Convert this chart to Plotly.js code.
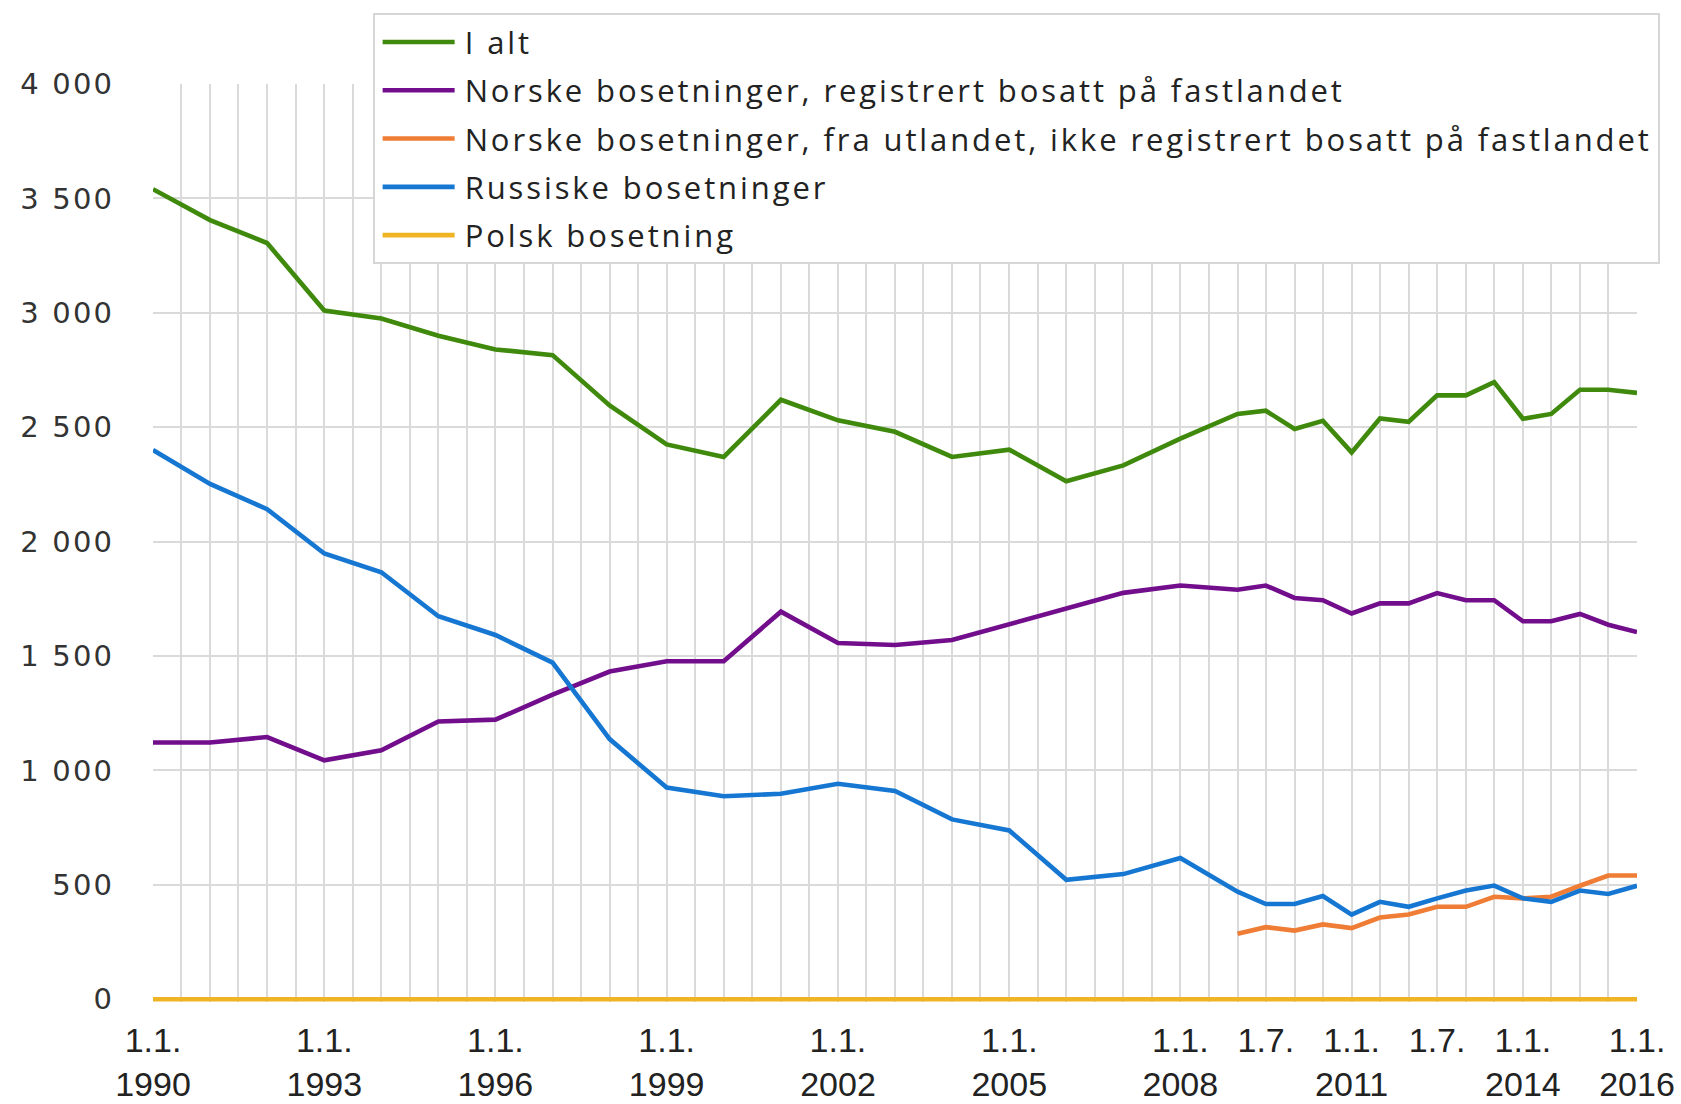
<!DOCTYPE html>
<html><head><meta charset="utf-8">
<script src="https://cdn.plot.ly/plotly-3.0.1.min.js"></script>
<style>html,body{margin:0;padding:0;background:#fff;} #chart{width:1681px;height:1104px;}
text.legendtext{letter-spacing:2.9px;}
g.ytick text{letter-spacing:2.2px;}
</style>
</head><body><div id="chart"></div>
<script>
// Dates of the observations (yearly until 2008, then half-yearly)
const dates = ["1990-01-01","1991-01-01","1992-01-01","1993-01-01","1994-01-01","1995-01-01","1996-01-01","1997-01-01","1998-01-01","1999-01-01","2000-01-01","2001-01-01","2002-01-01","2003-01-01","2004-01-01","2005-01-01","2006-01-01","2007-01-01","2008-01-01","2009-01-01","2009-07-01","2010-01-01","2010-07-01","2011-01-01","2011-07-01","2012-01-01","2012-07-01","2013-01-01","2013-07-01","2014-01-01","2014-07-01","2015-01-01","2015-07-01","2016-01-01"];
const utlandDates = ["2009-01-01","2009-07-01","2010-01-01","2010-07-01","2011-01-01","2011-07-01","2012-01-01","2012-07-01","2013-01-01","2013-07-01","2014-01-01","2014-07-01","2015-01-01","2015-07-01","2016-01-01"];

const iAlt = [3540,3405,3305,3010,2975,2900,2840,2815,2595,2425,2370,2620,2530,2480,2370,2402,2264,2333,2450,2558,2572,2492,2528,2390,2538,2524,2639,2639,2697,2537,2558,2664,2664,2650];
const norskeFastland = [1122,1122,1146,1044,1088,1214,1222,1331,1432,1477,1477,1694,1557,1548,1570,1638,1708,1776,1808,1790,1808,1754,1744,1686,1730,1730,1775,1744,1744,1652,1652,1684,1637,1605];
const norskeUtland = [286,315,300,327,311,357,370,404,404,448,441,448,496,541,541];
const russiske = [2400,2252,2142,1948,1866,1674,1592,1471,1137,925,887,898,942,910,786,738,522,547,617,470,416,416,451,370,426,404,441,475,497,441,426,475,460,496];
const polsk = [0,0,0,0,0,0,0,0,0,0,0,0,0,0,0,0,0,0,0,0,0,0,0,0,0,0,0,0,0,0,0,0,0,0];

const seriesNames = ["I alt","Norske bosetninger, registrert bosatt på fastlandet","Norske bosetninger, fra utlandet, ikke registrert bosatt på fastlandet","Russiske bosetninger","Polsk bosetning"];
const colors = ["#3f8a0c","#720e8c","#ef7d35","#1677d2","#efb324"];

const tickDates = ["1990-01-01","1993-01-01","1996-01-01","1999-01-01","2002-01-01","2005-01-01","2008-01-01","2009-07-01","2011-01-01","2012-07-01","2014-01-01","2016-01-01"];
const tickLabels = ["1.1.<br>1990","1.1.<br>1993","1.1.<br>1996","1.1.<br>1999","1.1.<br>2002","1.1.<br>2005","1.1.<br>2008","1.7.","1.1.<br>2011","1.7.","1.1.<br>2014","1.1.<br>2016"];
const yTicks = [0,500,1000,1500,2000,2500,3000,3500,4000];

const xs = [dates, dates, utlandDates, dates, dates];
const ys = [iAlt, norskeFastland, norskeUtland, russiske, polsk];

const traces = ys.map((y, i) => ({
  type: "scatter", mode: "lines", x: xs[i], y: y, name: seriesNames[i],
  legendgroup: "g" + i,
  line: {color: colors[i], width: 4.6}, hoverinfo: "x+y+name"
}));

const grid = "#dadada";
const layout = {
  width: 1681, height: 1104,
  margin: {l: 153, r: 44, t: 84, b: 102, pad: 0},
  paper_bgcolor: "#fff", plot_bgcolor: "#fff",
  separators: ", ",
  showlegend: true,
  legend: {
    x: 0.148, y: 1.077, xanchor: "left", yanchor: "top",
    bgcolor: "#fff", bordercolor: "#d6d6d6", borderwidth: 2,
    font: {family: "Open Sans, sans-serif", size: 31, color: "#222"},
    itemwidth: 80, tracegroupgap: 5, traceorder: "grouped"
  },
  xaxis: {
    type: "date", range: ["1990-01-01", "2016-01-01"],
    tickmode: "array", tickvals: tickDates, ticktext: tickLabels,
    showgrid: true, gridcolor: grid, gridwidth: 2,
    minor: {tickmode: "linear", tick0: "1990-01-01", dtick: "M6", showgrid: true, gridcolor: grid, gridwidth: 2, ticks: ""},
    ticks: "outside", ticklen: 8, tickcolor: "rgba(0,0,0,0)",
    tickfont: {family: "Liberation Sans Narrow, Arial Narrow, sans-serif", size: 34, color: "#222"},
    showline: false, zeroline: false, fixedrange: true
  },
  yaxis: {
    range: [-12, 4000], tickmode: "array", tickvals: yTicks,
    separatethousands: true, tickformat: ",d",
    showgrid: true, gridcolor: grid, gridwidth: 2,
    ticks: "outside", ticklen: 32, tickcolor: "rgba(0,0,0,0)",
    tickfont: {family: "DejaVu Sans, sans-serif", size: 29, color: "#333"},
    showline: false, zeroline: false, fixedrange: true
  }
};

Plotly.newPlot("chart", traces, layout, {displayModeBar: false, staticPlot: true}).then(gd => {
  gd.querySelectorAll(".legend .legendlines path").forEach(p => p.setAttribute("d", "M8,0h72"));
});
</script>
</body></html>
